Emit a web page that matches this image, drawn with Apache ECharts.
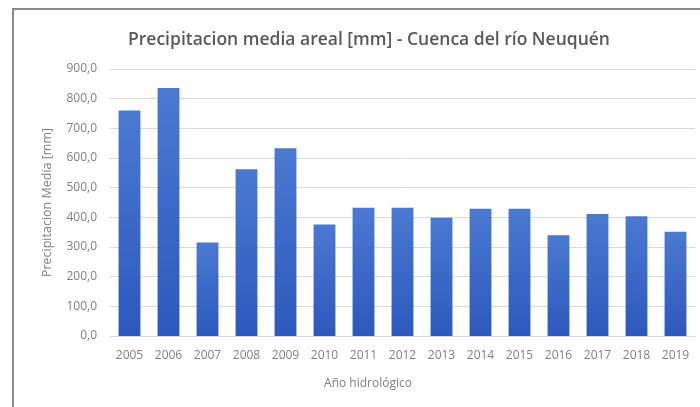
<!DOCTYPE html>
<html>
<head>
<meta charset="utf-8">
<script src="https://cdn.jsdelivr.net/npm/echarts@6/dist/echarts.min.js"></script>
<style>
html,body{margin:0;padding:0;background:#fff;}
#c{width:700px;height:407px;}
</style>
</head>
<body>
<div id="c"></div>
<script>
const chartTitle = 'Precipitacion media areal [mm] - Cuenca del río Neuquén';
const yAxisTitle = 'Precipitacion Media [mm]';
const xAxisTitle = 'Año hidrológico';
const years = ['2005','2006','2007','2008','2009','2010','2011','2012','2013','2014','2015','2016','2017','2018','2019'];
const precip = [760, 836, 315, 562, 633, 376, 432, 432, 399, 429, 429, 340, 411, 404, 351];

const chart = echarts.init(document.getElementById('c'), null, {renderer:'canvas'});
chart.setOption({
  animation: false,
  backgroundColor: '#ffffff',
  graphic: [
    {type:'line', shape:{x1:13, y1:9, x2:13, y2:407}, style:{stroke:'#8a8a8a', lineWidth:2}},
    {type:'line', shape:{x1:12, y1:9, x2:700, y2:9}, style:{stroke:'#8a8a8a', lineWidth:2}}
  ],
  title: [
    {text: chartTitle, left: 364, top: 26, textAlign: 'center',
     textStyle:{fontFamily:'Open Sans', fontSize:17.5, fontWeight:600, color:'#595959'}},
    {text: xAxisTitle, left: 363, top: 373, textAlign: 'center',
     textStyle:{fontFamily:'Open Sans', fontSize:12, fontWeight:'normal', color:'#7f7f7f'}}
  ],
  grid: {left: 110, right: 5, top: 69, bottom: 71, containLabel:false},
  xAxis: {
    type: 'category', data: years,
    axisLine: {lineStyle:{color:'#d9d9d9'}},
    axisTick: {show:false},
    axisLabel: {fontFamily:'Open Sans', fontSize:12, color:'#7f7f7f', margin:14, interval:0}
  },
  yAxis: {
    type: 'value', min: 0, max: 900, interval: 100,
    name: yAxisTitle, nameLocation:'middle', nameGap: 56, nameRotate: 90,
    nameTextStyle: {fontFamily:'Open Sans', fontSize:12.5, color:'#7f7f7f'},
    axisLine: {show:false}, axisTick:{show:false},
    splitLine: {lineStyle:{color:'#d9d9d9'}},
    axisLabel: {fontFamily:'Open Sans', fontSize:12, color:'#7f7f7f', margin:13,
      formatter: v => v.toFixed(1).replace('.', ',')}
  },
  series: [{
    type: 'bar', data: precip, barCategoryGap: '44%',
    itemStyle: {color: new echarts.graphic.LinearGradient(0,0,0,1,[
      {offset:0, color:'#4a79d2'}, {offset:1, color:'#2d58bd'}])}
  }]
});
</script>
</body>
</html>
